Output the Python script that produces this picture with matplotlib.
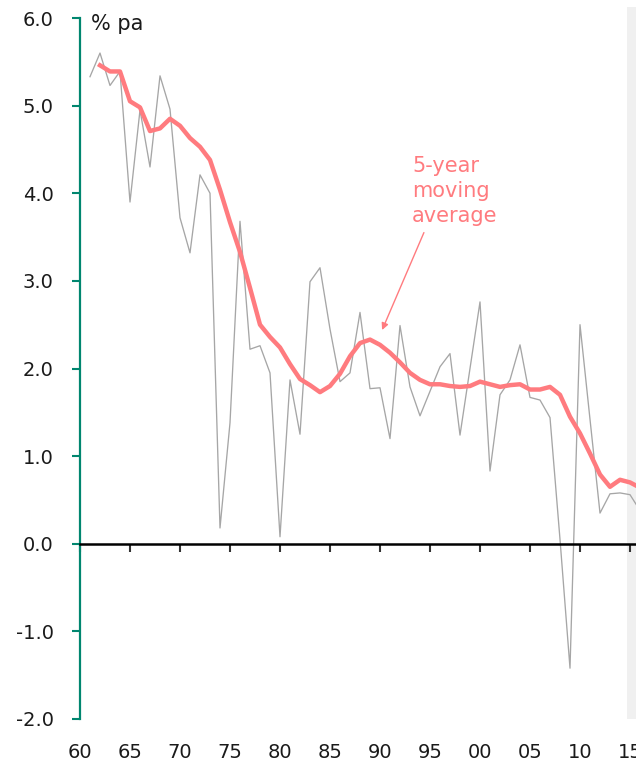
import numpy as np
import matplotlib
matplotlib.use('Agg')
import matplotlib.pyplot as plt

plt.rcParams['font.family'] = ['DejaVu Sans']

# annual rate, % pa
years = np.arange(1961, 2017)
annual = [5.33, 5.60, 5.23, 5.39, 3.90, 4.95, 4.30, 5.34, 4.96, 3.72,
          3.32, 4.21, 4.00, 0.18, 1.38, 3.68, 2.22, 2.26, 1.95, 0.08,
          1.87, 1.25, 2.99, 3.15, 2.45, 1.85, 1.95, 2.64, 1.77, 1.78,
          1.20, 2.49, 1.79, 1.46, 1.74, 2.02, 2.17, 1.24, 2.00, 2.76,
          0.83, 1.70, 1.87, 2.27, 1.67, 1.64, 1.44, 0.05, -1.42, 2.50,
          1.42, 0.35, 0.57, 0.58, 0.56, 0.38]

# 5-year moving average
ma_years = np.arange(1962, 2017)
ma = [5.46, 5.39, 5.39, 5.05, 4.98, 4.71, 4.74, 4.85, 4.77, 4.63,
      4.53, 4.38, 4.04, 3.67, 3.33, 2.92, 2.50, 2.36, 2.24, 2.05,
      1.88, 1.81, 1.73, 1.80, 1.94, 2.14, 2.29, 2.33, 2.27, 2.18,
      2.07, 1.95, 1.87, 1.82, 1.82, 1.80, 1.79, 1.80, 1.85, 1.82,
      1.79, 1.81, 1.82, 1.76, 1.76, 1.79, 1.70, 1.45, 1.26, 1.03,
      0.79, 0.65, 0.73, 0.70, 0.64]

xticks = np.arange(1960, 2016, 5)
yticks = np.arange(-2, 7, 1)
forecast_start = 2014.67

teal = '#00866F'
red = '#FF7B7F'

fig = plt.figure(figsize=(6.36, 7.63), dpi=100)
ax = fig.add_axes([80/636, 1 - 719/763, 556/636, 701/763])

ax.axvspan(forecast_start, 2017, ymin=0, ymax=1.016, color='#F0F0F0', lw=0, clip_on=False, zorder=0)

ax.plot(years, annual, color='#A6A6A6', lw=0.95, zorder=2)
ax.plot(ma_years, ma, color=red, lw=3.2, zorder=3, solid_joinstyle='round')

ax.set_xlim(1960, 2015.6)
ax.set_ylim(-2, 6)

for s in ['top', 'right']:
    ax.spines[s].set_visible(False)
ax.spines['left'].set_color(teal)
ax.spines['left'].set_linewidth(1.6)
ax.spines['bottom'].set_position(('data', 0))
ax.spines['bottom'].set_linewidth(1.8)
ax.spines['bottom'].set_color('black')
ax.spines['bottom'].set_zorder(4)

ax.set_yticks(yticks)
ax.set_yticklabels([f'{v:.1f}' for v in yticks])
ax.tick_params(axis='y', direction='out', length=6, width=1.5, color=teal,
               labelsize=14, pad=13, labelcolor='#1a1a1a')

ax.set_xticks(xticks)
ax.tick_params(axis='x', direction='out', length=6, width=1.5, color='#333333', labelbottom=False)

sec = ax.secondary_xaxis(0)
sec.set_xticks(xticks)
sec.set_xticklabels([f'{y % 100:02d}' for y in xticks])
sec.spines['bottom'].set_visible(False)
sec.tick_params(axis='x', length=0, labelsize=14, pad=17, labelcolor='#1a1a1a')

ax.text(1961.1, 6.04, '% pa', fontsize=15, va='top', ha='left', color='#1a1a1a')

ax.text(1993.2, 4.42, '5-year\nmoving\naverage', fontsize=15, va='top', ha='left',
        color=red, linespacing=1.3)
ax.annotate('', xy=(1990.1, 2.41), xytext=(1994.5, 3.58),
            arrowprops=dict(arrowstyle='-|>', color=red, lw=1.0, mutation_scale=10))

fig.savefig('out.png', dpi=100)
